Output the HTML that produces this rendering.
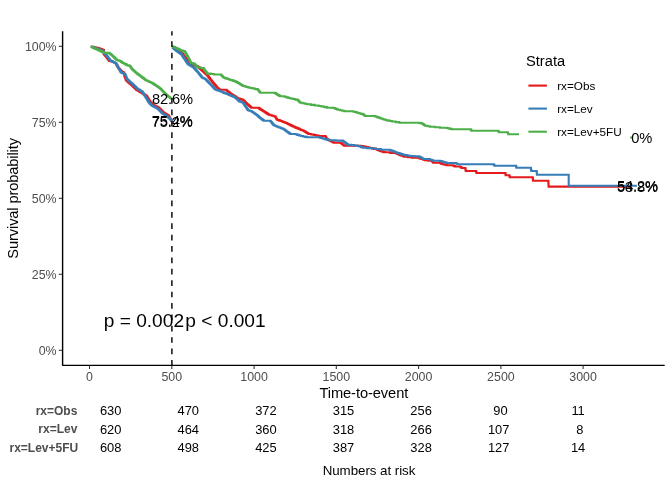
<!DOCTYPE html>
<html><head><meta charset="utf-8"><title>Survival plot</title>
<style>
html,body{margin:0;padding:0;background:#fff;}
svg{display:block;font-family:"Liberation Sans",Arial,Helvetica,sans-serif;}
.tick{font-size:12.4px;fill:#4D4D4D;}
.axt{font-size:14.67px;fill:#000;}
.lab{font-size:14.67px;fill:#000;text-anchor:middle;}
.pv{font-size:19.15px;fill:#000;}
.leg{font-size:11.73px;fill:#000;}
.rt{font-size:12.9px;fill:#000;text-anchor:middle;white-space:pre;}
.rl{font-size:12px;fill:#4D4D4D;font-weight:bold;text-anchor:end;}
.cv{fill:none;stroke-width:2.1;stroke-linejoin:miter;stroke-linecap:butt;}
#w{width:672px;height:480px;will-change:transform;}
</style></head><body>
<div id="w"><svg width="672" height="480" viewBox="0 0 672 480">
<rect width="672" height="480" fill="#fff"/>

<path class="cv" stroke="#E41A1C" d="M90.70,46.80H93.20V47.27H95.70V47.73H98.20V48.20H99.35V48.66H100.50V49.12H101.65V49.58H102.80V50.04H103.95V50.50H103.60V53.70H103.98V54.16H104.36V54.62H104.74V55.08H105.12V55.54H105.50V56.00H105.88V56.50H106.26V57.00H106.64V57.50H107.02V58.00H107.40V58.50H107.77V59.00H108.14V59.50H108.51V60.00H108.88V60.50H109.25V61.00H111.12V61.50H113.00V62.00H113.97V62.53H114.93V63.07H115.90V63.60H116.23V64.15H116.55V64.70H116.88V65.25H117.20V65.80H117.50V66.35H117.80V66.90H118.10V67.45H118.40V68.00H118.86V68.51H119.33V69.03H119.79V69.54H120.25V70.05H120.71V70.56H121.18V71.08H121.64V71.59H122.10V72.10H123.15V72.65H124.20V73.20H124.21V73.75H124.22V74.30H124.24V74.85H124.25V75.40H124.44V75.88H124.62V76.35H124.80V76.83H124.99V77.30H125.17V77.78H125.36V78.25H125.55V78.73H125.73V79.20H125.91V79.68H126.10V80.15H126.62V80.65H127.15V81.15H127.67V81.65H128.20V82.15H128.72V82.65H129.25V83.15H129.88V83.69H130.50V84.23H131.12V84.78H131.75V85.32H132.38V85.86H133.00V86.40H133.47V86.87H133.94V87.34H134.41V87.81H134.88V88.28H135.34V88.74H135.81V89.21H136.28V89.68H136.75V90.15H137.88V90.78H139.00V91.40H139.77V91.83H140.53V92.27H141.30V92.70H142.09V93.23H142.87V93.76H143.66V94.29H144.44V94.81H145.23V95.34H146.01V95.87H146.80V96.40H147.12V96.92H147.44V97.44H147.75V97.95H148.07V98.47H148.39V98.99H148.71V99.51H149.03V100.03H149.35V100.55H149.66V101.06H149.98V101.58H150.30V102.10H150.77V102.57H151.24V103.04H151.71V103.51H152.19V103.99H152.66V104.46H153.13V104.93H153.60V105.40H154.60V105.90H155.60V106.40H156.60V106.90H157.60V107.40H158.60V107.90H159.14V108.40H159.68V108.90H160.22V109.40H160.76V109.90H161.30V110.40H161.76V110.90H162.22V111.40H162.68V111.90H163.14V112.40H163.60V112.90H164.43V113.40H165.27V113.90H166.10V114.40H166.93V114.90H167.77V115.40H168.60V115.90H168.88V116.38H169.15V116.87H169.43V117.35H169.70V117.83H169.98V118.32H170.25V118.80H170.53V119.28H170.80V119.77H171.08V120.25H171.35V120.73H171.62V121.22H171.90V121.70"/>
<path class="cv" stroke="#E41A1C" d="M172.20,46.80H173.00V47.33H173.80V47.87H174.60V48.40H175.40V48.93H176.20V49.47H177.00V50.00H177.74V50.50H178.49V51.00H179.23V51.50H179.97V52.00H180.71V52.50H181.46V53.00H182.20V53.50H182.58V54.00H182.96V54.50H183.34V55.00H183.72V55.50H184.10V56.00H184.48V56.50H184.86V57.00H185.24V57.50H185.62V58.00H186.00V58.50H186.37V59.00H186.74V59.50H187.11V60.00H187.48V60.50H187.85V61.00H188.22V61.50H188.59V62.00H188.96V62.50H189.33V63.00H189.70V63.50H190.77V63.95H191.85V64.40H192.93V64.85H194.00V65.30H195.33V65.80H196.67V66.30H198.00V66.80H198.56V67.33H199.12V67.85H199.69V68.38H200.25V68.90H200.81V69.42H201.38V69.95H201.94V70.47H202.50V71.00H203.09V71.53H203.68V72.05H204.26V72.58H204.85V73.10H205.44V73.62H206.02V74.15H206.61V74.67H207.20V75.20H207.57V75.68H207.94V76.17H208.31V76.65H208.68V77.14H209.05V77.62H209.42V78.11H209.78V78.59H210.15V79.08H210.52V79.56H210.89V80.05H211.26V80.53H211.63V81.02H212.00V81.50H212.43V82.02H212.87V82.53H213.30V83.05H213.73V83.57H214.17V84.08H214.60V84.60H215.03V85.12H215.47V85.63H215.90V86.15H216.33V86.67H216.77V87.18H217.20V87.70H217.82V88.20H218.45V88.70H219.07V89.20H219.70V89.70H226.30V90.20H226.93V90.71H227.55V91.22H228.18V91.74H228.80V92.25H229.43V92.76H230.05V93.28H230.68V93.79H231.30V94.30H232.14V94.83H232.98V95.35H233.81V95.88H234.65V96.40H235.49V96.92H236.32V97.45H237.16V97.97H238.00V98.50H239.67V99.07H241.33V99.63H243.00V100.20H243.50V100.67H244.00V101.15H244.50V101.62H245.00V102.10H245.50V102.58H246.00V103.05H246.50V103.53H247.00V104.00H247.61V104.53H248.23V105.06H248.84V105.59H249.46V106.11H250.07V106.64H250.69V107.17H251.30V107.70H257.80V107.70H258.54V108.17H259.29V108.64H260.03V109.11H260.77V109.59H261.51V110.06H262.26V110.53H263.00V111.00H263.81V111.53H264.63V112.06H265.44V112.59H266.26V113.11H267.07V113.64H267.89V114.17H268.70V114.70H270.35V115.22H272.00V115.75H273.65V116.28H275.30V116.80H275.58V117.28H275.87V117.77H276.15V118.25H276.43V118.73H276.72V119.22H277.00V119.70H278.25V120.15H279.50V120.60H280.75V121.05H282.00V121.50H283.25V122.00H284.50V122.50H285.75V123.00H287.00V123.50H287.96V123.97H288.91V124.44H289.87V124.91H290.83V125.39H291.79V125.86H292.74V126.33H293.70V126.80H294.95V127.33H296.20V127.85H297.45V128.38H298.70V128.90H299.95V129.43H301.20V129.95H302.45V130.47H303.70V131.00H304.53V131.50H305.37V132.00H306.20V132.50H307.03V133.00H307.87V133.50H308.70V134.00H311.20V134.50H313.70V135.00H316.20V135.50H318.70V136.00H325.30V136.30H325.58V136.80H325.87V137.30H326.15V137.80H326.43V138.30H326.72V138.80H327.00V139.30H327.96V139.79H328.91V140.27H329.87V140.76H330.83V141.24H331.79V141.73H332.74V142.21H333.70V142.70H341.00V143.20H341.66V143.70H342.32V144.20H342.98V144.70H343.64V145.20H344.30V145.70H361.00V146.00H363.33V146.50H365.67V147.00H368.00V147.50H370.00V147.95H372.00V148.40H374.00V148.85H376.00V149.30H377.33V149.87H378.67V150.43H380.00V151.00H381.43V151.43H382.87V151.87H384.30V152.30H390.15V152.90H396.00V153.50H397.33V154.07H398.67V154.63H400.00V155.20H401.43V155.73H402.87V156.27H404.30V156.80H408.15V157.30H412.00V157.80H419.30V158.50H421.20V159.07H423.10V159.63H425.00V160.20H428.35V160.60H431.70V161.00H432.23V161.57H432.77V162.13H433.30V162.70H440.00V163.00H440.83V163.43H441.67V163.87H442.50V164.30H444.60V164.75H446.70V165.20H453.30V165.70H454.15V166.10H455.00V166.50H460.00V166.80H460.85V167.40H461.70V168.00H465.30V168.30H465.40V168.84H465.50V169.38H465.60V169.92H465.70V170.46H465.80V171.00H476.00V171.00H476.12V171.50H476.25V172.00H476.38V172.50H476.50V173.00H505.30V173.00H505.40V173.55H505.50V174.10H505.60V174.65H505.70V175.20H509.30V175.20H509.43V175.70H509.55V176.20H509.68V176.70H509.80V177.20H532.70V177.20H532.74V177.70H532.79V178.20H532.83V178.70H532.87V179.20H532.91V179.70H532.96V180.20H533.00V180.70H548.30V180.70H548.32V181.19H548.35V181.68H548.38V182.17H548.40V182.67H548.42V183.16H548.45V183.65H548.48V184.14H548.50V184.63H548.52V185.12H548.55V185.62H548.58V186.11H548.60V186.60H630.00V186.60"/>
<path class="cv" stroke="#377EB8" d="M90.70,46.80H92.28V47.30H93.85V47.80H95.42V48.30H97.00V48.80H98.15V49.26H99.30V49.72H100.45V50.18H101.60V50.64H102.75V51.10H103.21V51.62H103.67V52.15H104.14V52.68H104.60V53.20H104.98V53.66H105.36V54.12H105.74V54.58H106.12V55.04H106.50V55.50H106.88V56.00H107.26V56.50H107.64V57.00H108.02V57.50H108.40V58.00H108.77V58.50H109.14V59.00H109.51V59.50H109.88V60.00H110.25V60.50H111.17V61.00H112.08V61.50H113.00V62.00H113.97V62.53H114.93V63.07H115.90V63.60H116.23V64.15H116.55V64.70H116.88V65.25H117.20V65.80H117.50V66.35H117.80V66.90H118.10V67.45H118.40V68.00H118.68V68.49H118.96V68.98H119.23V69.47H119.51V69.96H119.79V70.44H120.07V70.93H120.34V71.42H120.62V71.91H120.90V72.40H121.95V72.95H123.00V73.50H124.12V74.00H125.25V74.50H125.44V74.97H125.62V75.45H125.80V75.92H125.99V76.40H126.17V76.88H126.36V77.35H126.55V77.83H126.73V78.30H126.91V78.78H127.10V79.25H127.62V79.75H128.15V80.25H128.68V80.75H129.20V81.25H129.72V81.75H130.25V82.25H130.88V82.79H131.50V83.33H132.12V83.88H132.75V84.42H133.38V84.96H134.00V85.50H134.47V85.97H134.94V86.44H135.41V86.91H135.88V87.38H136.34V87.84H136.81V88.31H137.28V88.78H137.75V89.25H138.88V89.88H140.00V90.50H140.77V90.93H141.53V91.37H142.30V91.80H142.62V92.32H142.94V92.84H143.26V93.36H143.58V93.88H143.90V94.40H144.22V94.92H144.54V95.44H144.86V95.96H145.18V96.48H145.50V97.00H145.82V97.52H146.14V98.04H146.45V98.55H146.77V99.07H147.09V99.59H147.41V100.11H147.73V100.63H148.05V101.15H148.36V101.66H148.68V102.18H149.00V102.70H149.47V103.17H149.94V103.64H150.41V104.11H150.89V104.59H151.36V105.06H151.83V105.53H152.30V106.00H153.30V106.50H154.30V107.00H155.30V107.50H156.30V108.00H157.30V108.50H157.84V109.00H158.38V109.50H158.92V110.00H159.46V110.50H160.00V111.00H160.46V111.50H160.92V112.00H161.38V112.50H161.84V113.00H162.30V113.50H163.13V114.00H163.97V114.50H164.80V115.00H165.63V115.50H166.47V116.00H167.30V116.50H167.81V117.01H168.32V117.52H168.83V118.03H169.34V118.54H169.86V119.06H170.37V119.57H170.88V120.08H171.39V120.59H171.90V121.10"/>
<path class="cv" stroke="#377EB8" d="M172.20,47.50H172.81V48.00H173.43V48.50H174.04V49.00H174.66V49.50H175.27V50.00H175.89V50.50H176.50V51.00H177.19V51.47H177.87V51.94H178.56V52.41H179.24V52.89H179.93V53.36H180.61V53.83H181.30V54.30H181.66V54.82H182.01V55.34H182.37V55.87H182.72V56.39H183.08V56.91H183.43V57.43H183.79V57.96H184.14V58.48H184.50V59.00H184.82V59.48H185.14V59.96H185.45V60.45H185.77V60.93H186.09V61.41H186.41V61.89H186.73V62.37H187.05V62.85H187.36V63.34H187.68V63.82H188.00V64.30H188.83V64.79H189.66V65.27H190.49V65.76H191.31V66.24H192.14V66.73H192.97V67.21H193.80V67.70H194.22V68.18H194.64V68.66H195.06V69.14H195.48V69.62H195.90V70.10H196.32V70.58H196.74V71.06H197.16V71.54H197.58V72.02H198.00V72.50H198.42V73.02H198.84V73.54H199.26V74.06H199.68V74.58H200.10V75.10H200.52V75.62H200.94V76.14H201.36V76.66H201.78V77.18H202.20V77.70H203.30V78.23H204.40V78.77H205.50V79.30H206.00V79.82H206.50V80.34H207.00V80.86H207.50V81.38H208.00V81.90H208.50V82.42H209.00V82.94H209.50V83.46H210.00V83.98H210.50V84.50H211.00V85.02H211.50V85.54H212.00V86.06H212.50V86.58H213.00V87.10H213.50V87.62H214.00V88.14H214.50V88.66H215.00V89.18H215.50V89.70H216.95V90.22H218.40V90.75H219.85V91.28H221.30V91.80H222.64V92.34H223.98V92.88H225.32V93.42H226.66V93.96H228.00V94.50H229.12V94.97H230.23V95.43H231.35V95.90H232.47V96.37H233.58V96.83H234.70V97.30H235.26V97.80H235.81V98.30H236.37V98.80H236.92V99.30H237.48V99.80H238.03V100.30H238.59V100.80H239.14V101.30H239.70V101.80H241.35V102.25H243.00V102.70H243.31V103.17H243.62V103.65H243.94V104.12H244.25V104.60H244.56V105.08H244.88V105.55H245.19V106.03H245.50V106.50H245.86V107.03H246.21V107.56H246.57V108.09H246.93V108.61H247.29V109.14H247.64V109.67H248.00V110.20H249.33V110.73H250.67V111.27H252.00V111.80H252.71V112.29H253.43V112.77H254.14V113.26H254.86V113.74H255.57V114.23H256.29V114.71H257.00V115.20H257.50V115.67H258.00V116.13H258.50V116.60H259.00V117.07H259.50V117.53H260.00V118.00H260.74V118.54H261.48V119.08H262.22V119.62H262.96V120.16H263.70V120.70H270.30V121.00H270.73V121.53H271.15V122.05H271.57V122.58H272.00V123.10H272.43V123.62H272.85V124.15H273.27V124.67H273.70V125.20H274.90V125.72H276.10V126.25H277.30V126.78H278.50V127.30H279.80V127.80H281.10V128.30H282.40V128.80H283.70V129.30H284.36V129.78H285.02V130.26H285.68V130.74H286.34V131.22H287.00V131.70H287.66V132.16H288.32V132.62H288.98V133.08H289.64V133.54H290.30V134.00H295.30V134.30H297.20V134.87H299.10V135.43H301.00V136.00H303.00V136.43H305.00V136.87H307.00V137.30H320.30V138.00H322.40V138.55H324.50V139.10H326.60V139.65H328.70V140.20H335.70V140.60H342.70V141.00H343.41V141.53H344.13V142.06H344.84V142.59H345.56V143.11H346.27V143.64H346.99V144.17H347.70V144.70H351.03V145.13H354.37V145.57H357.70V146.00H359.37V146.57H361.03V147.13H362.70V147.70H367.13V148.13H371.57V148.57H376.00V149.00H381.00V149.70H390.20V150.20H391.36V150.66H392.52V151.12H393.68V151.58H394.84V152.04H396.00V152.50H397.68V153.05H399.35V153.60H401.02V154.15H402.70V154.70H404.90V155.13H407.10V155.57H409.30V156.00H414.30V156.40H419.30V156.80H420.30V157.35H421.30V157.90H422.30V158.45H423.30V159.00H430.00V159.70H431.65V160.20H433.30V160.70H440.00V161.00H441.68V161.50H443.35V162.00H445.02V162.50H446.70V163.00H455.80V163.20H456.65V163.75H457.50V164.30H493.50V164.30H493.83V164.77H494.17V165.23H494.50V165.70H516.00V165.70H516.10V166.22H516.20V166.75H516.30V167.28H516.40V167.80H530.80V167.80H530.88V168.33H530.97V168.87H531.05V169.40H531.13V169.93H531.22V170.47H531.30V171.00H536.60V171.00H536.66V171.53H536.71V172.06H536.77V172.59H536.83V173.11H536.89V173.64H536.94V174.17H537.00V174.70H568.70V174.70H568.70V185.70H636.90V185.70"/>
<path class="cv" stroke="#4DAF4A" d="M90.70,46.80H91.88V47.32H93.05V47.83H94.22V48.35H95.40V48.87H96.58V49.38H97.75V49.90H98.79V50.40H99.83V50.90H100.88V51.40H101.92V51.90H102.96V52.40H104.00V52.90H109.60V53.60H110.22V54.08H110.85V54.55H111.47V55.02H112.10V55.50H112.60V55.98H113.10V56.46H113.60V56.94H114.10V57.42H114.60V57.90H115.10V58.38H115.60V58.86H116.10V59.34H116.60V59.82H117.10V60.30H118.67V60.80H120.25V61.30H121.08V61.87H121.92V62.43H122.75V63.00H123.84V63.55H124.92V64.10H126.01V64.65H127.10V65.20H128.45V65.60H129.80V66.00H130.18V66.54H130.57V67.08H130.95V67.62H131.33V68.17H131.72V68.71H132.10V69.25H132.65V69.74H133.20V70.24H133.75V70.73H134.30V71.22H134.85V71.72H135.40V72.21H135.95V72.71H136.50V73.20H137.12V73.67H137.75V74.13H138.38V74.60H139.00V75.07H139.62V75.53H140.25V76.00H140.88V76.47H141.50V76.93H142.12V77.40H142.75V77.87H143.38V78.33H144.00V78.80H144.57V79.27H145.13V79.73H145.70V80.20H146.80V80.70H147.90V81.20H149.00V81.70H150.10V82.20H151.20V82.70H152.30V83.20H153.00V83.67H153.70V84.13H154.40V84.60H155.10V85.07H155.80V85.53H156.50V86.00H157.20V86.50H157.90V87.00H158.60V87.50H159.30V88.00H160.00V88.50H160.70V89.00H161.16V89.50H161.62V90.00H162.08V90.50H162.54V91.00H163.00V91.50H163.45V91.97H163.90V92.43H164.35V92.90H164.80V93.37H165.25V93.83H165.70V94.30H166.27V94.78H166.85V95.25H167.43V95.72H168.00V96.20H168.65V96.70H169.30V97.20H169.95V97.70H170.60V98.20H171.25V98.70H171.90V99.20"/>
<path class="cv" stroke="#4DAF4A" d="M172.20,46.60H173.63V47.17H175.07V47.73H176.50V48.30H177.62V48.85H178.75V49.40H179.88V49.95H181.00V50.50H182.88V51.12H184.75V51.75H185.06V52.19H185.38V52.62H185.69V53.06H186.00V53.50H186.28V54.00H186.56V54.50H186.83V55.00H187.11V55.50H187.39V56.00H187.67V56.50H187.94V57.00H188.22V57.50H188.50V58.00H188.75V58.50H189.00V59.00H189.25V59.50H189.50V60.00H189.75V60.50H190.00V61.00H190.25V61.50H190.50V62.00H190.75V62.50H191.00V63.00H192.88V63.62H194.75V64.25H195.17V64.78H195.58V65.30H196.00V65.83H196.42V66.35H196.83V66.88H197.25V67.40H200.38V68.00H203.50V68.60H203.86V69.08H204.22V69.56H204.58V70.04H204.94V70.52H205.30V71.00H205.69V71.52H206.08V72.04H206.47V72.56H206.86V73.08H207.25V73.60H210.62V74.05H214.00V74.50H221.30V75.20H221.80V75.70H222.30V76.20H222.80V76.70H223.30V77.20H223.80V77.70H225.10V78.15H226.40V78.60H227.70V79.05H229.00V79.50H230.43V79.95H231.85V80.40H233.27V80.85H234.70V81.30H235.77V81.85H236.85V82.40H237.93V82.95H239.00V83.50H239.80V84.00H240.60V84.50H241.40V85.00H242.20V85.50H243.00V86.00H244.75V86.50H246.50V87.00H248.25V87.50H250.00V88.00H252.60V88.57H255.20V89.13H257.80V89.70H258.22V90.20H258.63V90.70H259.05V91.20H259.47V91.70H259.88V92.20H260.30V92.70H274.50V92.70H275.12V93.15H275.75V93.60H276.38V94.05H277.00V94.50H277.82V94.95H278.65V95.40H279.48V95.85H280.30V96.30H284.50V96.80H286.43V97.37H288.37V97.93H290.30V98.50H292.80V99.07H295.30V99.63H297.80V100.20H298.30V100.70H298.80V101.20H299.30V101.70H299.80V102.20H300.30V102.70H302.53V103.23H304.77V103.77H307.00V104.30H310.90V104.87H314.80V105.43H318.70V106.00H321.47V106.57H324.23V107.13H327.00V107.70H333.70V108.00H334.77V108.45H335.85V108.90H336.93V109.35H338.00V109.80H340.10V110.30H342.20V110.80H344.30V111.30H352.70V111.50H354.47V112.00H356.23V112.50H358.00V113.00H359.57V113.43H361.13V113.87H362.70V114.30H363.53V114.87H364.37V115.43H365.20V116.00H373.50V116.00H375.12V116.55H376.75V117.10H378.38V117.65H380.00V118.20H381.50V118.70H383.00V119.20H384.50V119.70H386.00V120.20H388.00V120.63H390.00V121.07H392.00V121.50H395.65V122.10H399.30V122.70H417.70V122.70H419.75V123.10H421.80V123.50H422.60V124.05H423.40V124.60H424.20V125.15H425.00V125.70H427.50V126.25H430.00V126.80H435.00V127.25H440.00V127.70H446.70V128.00H448.37V128.43H450.03V128.87H451.70V129.30H470.50V129.30H470.83V129.77H471.17V130.23H471.50V130.70H498.00V130.70H498.33V131.23H498.67V131.77H499.00V132.30H507.70V132.30H507.85V132.80H508.00V133.30H508.15V133.80H508.30V134.30H560.00V134.30H560.00V136.00H600.00V136.00H600.00V137.50H632.30V137.50"/>
<line x1="171.9" x2="171.9" y1="365.6" y2="31.2" stroke="#000" stroke-width="1.42" stroke-dasharray="5.69 5.69"/>
<text class="lab" x="172.6" y="104.2" textLength="41.0" lengthAdjust="spacing">82.6%</text>
<text class="lab" x="172.3" y="126.1" textLength="41.0" lengthAdjust="spacing">75.4%</text>
<text class="lab" x="172.3" y="126.7" textLength="41.0" lengthAdjust="spacing">75.2%</text>
<text class="lab" x="631.8" y="142.5" textLength="41.0" lengthAdjust="spacing">70.0%</text>
<text class="lab" x="637.6" y="191.6" textLength="41.0" lengthAdjust="spacing">53.8%</text>
<text class="lab" x="637.6" y="190.5" textLength="41.0" lengthAdjust="spacing">54.2%</text>
<text class="pv" x="103.7" y="326.8">p = 0.002</text>
<text class="pv" x="185.3" y="326.8">p &lt; 0.001</text>
<path d="M62.6,31.2V365.35H664.7" fill="none" stroke="#000" stroke-width="1.42" stroke-linejoin="round"/>
<line x1="58.8" x2="62.5" y1="46.3" y2="46.3" stroke="#333" stroke-width="1.07"/>
<text class="tick" text-anchor="end" x="56.6" y="50.8">100%</text>
<line x1="58.8" x2="62.5" y1="122.3" y2="122.3" stroke="#333" stroke-width="1.07"/>
<text class="tick" text-anchor="end" x="56.6" y="126.8">75%</text>
<line x1="58.8" x2="62.5" y1="198.3" y2="198.3" stroke="#333" stroke-width="1.07"/>
<text class="tick" text-anchor="end" x="56.6" y="202.8">50%</text>
<line x1="58.8" x2="62.5" y1="274.3" y2="274.3" stroke="#333" stroke-width="1.07"/>
<text class="tick" text-anchor="end" x="56.6" y="278.8">25%</text>
<line x1="58.8" x2="62.5" y1="350.3" y2="350.3" stroke="#333" stroke-width="1.07"/>
<text class="tick" text-anchor="end" x="56.6" y="354.8">0%</text>
<line x1="89.5" x2="89.5" y1="365.4" y2="369" stroke="#333" stroke-width="1.07"/>
<text class="tick" text-anchor="middle" x="89.5" y="380.8">0</text>
<line x1="171.8" x2="171.8" y1="365.4" y2="369" stroke="#333" stroke-width="1.07"/>
<text class="tick" text-anchor="middle" x="171.8" y="380.8">500</text>
<line x1="254.1" x2="254.1" y1="365.4" y2="369" stroke="#333" stroke-width="1.07"/>
<text class="tick" text-anchor="middle" x="254.1" y="380.8">1000</text>
<line x1="336.3" x2="336.3" y1="365.4" y2="369" stroke="#333" stroke-width="1.07"/>
<text class="tick" text-anchor="middle" x="336.3" y="380.8">1500</text>
<line x1="418.6" x2="418.6" y1="365.4" y2="369" stroke="#333" stroke-width="1.07"/>
<text class="tick" text-anchor="middle" x="418.6" y="380.8">2000</text>
<line x1="500.9" x2="500.9" y1="365.4" y2="369" stroke="#333" stroke-width="1.07"/>
<text class="tick" text-anchor="middle" x="500.9" y="380.8">2500</text>
<line x1="583.1" x2="583.1" y1="365.4" y2="369" stroke="#333" stroke-width="1.07"/>
<text class="tick" text-anchor="middle" x="583.1" y="380.8">3000</text>
<text class="axt" text-anchor="middle" x="363.85" y="398.3" textLength="88.85" lengthAdjust="spacing">Time-to-event</text>
<text class="axt" text-anchor="middle" transform="translate(17.6,198.3) rotate(-90)" textLength="120.7" lengthAdjust="spacing">Survival probability</text>
<rect x="519" y="47" width="111.1" height="104" fill="#fff"/>
<text class="axt" x="526.0" y="65.6">Strata</text>
<line x1="528.4" x2="546.9" y1="85.6" y2="85.6" stroke="#E41A1C" stroke-width="2.1"/>
<text class="leg" x="557.2" y="89.8">rx=Obs</text>
<line x1="528.4" x2="546.9" y1="108.6" y2="108.6" stroke="#377EB8" stroke-width="2.1"/>
<text class="leg" x="557.2" y="112.8">rx=Lev</text>
<line x1="528.4" x2="546.9" y1="131.7" y2="131.7" stroke="#4DAF4A" stroke-width="2.1"/>
<text class="leg" x="557.2" y="135.9">rx=Lev+5FU</text>
<text class="rl" x="77.4" y="415.0">rx=Obs</text>
<text class="rt" xml:space="preserve" x="110.7" y="415.4">630</text>
<text class="rt" xml:space="preserve" x="188.3" y="415.4">470</text>
<text class="rt" xml:space="preserve" x="265.9" y="415.4">372</text>
<text class="rt" xml:space="preserve" x="343.5" y="415.4">315</text>
<text class="rt" xml:space="preserve" x="421.1" y="415.4">256</text>
<text class="rt" xml:space="preserve" x="498.7" y="415.4"> 90</text>
<text class="rt" xml:space="preserve" x="576.3" y="415.4"> 11</text>
<text class="rl" x="77.4" y="433.1">rx=Lev</text>
<text class="rt" xml:space="preserve" x="110.7" y="433.5">620</text>
<text class="rt" xml:space="preserve" x="188.3" y="433.5">464</text>
<text class="rt" xml:space="preserve" x="265.9" y="433.5">360</text>
<text class="rt" xml:space="preserve" x="343.5" y="433.5">318</text>
<text class="rt" xml:space="preserve" x="421.1" y="433.5">266</text>
<text class="rt" xml:space="preserve" x="498.7" y="433.5">107</text>
<text class="rt" xml:space="preserve" x="576.3" y="433.5">  8</text>
<text class="rl" x="78.2" y="451.7">rx=Lev+5FU</text>
<text class="rt" xml:space="preserve" x="110.7" y="451.8">608</text>
<text class="rt" xml:space="preserve" x="188.3" y="451.8">498</text>
<text class="rt" xml:space="preserve" x="265.9" y="451.8">425</text>
<text class="rt" xml:space="preserve" x="343.5" y="451.8">387</text>
<text class="rt" xml:space="preserve" x="421.1" y="451.8">328</text>
<text class="rt" xml:space="preserve" x="498.7" y="451.8">127</text>
<text class="rt" xml:space="preserve" x="576.3" y="451.8"> 14</text>
<text text-anchor="middle" x="369.0" y="474.7" textLength="92.7" lengthAdjust="spacing" style="font-size:13.33px;fill:#000">Numbers at risk</text>
</svg></div></body></html>
